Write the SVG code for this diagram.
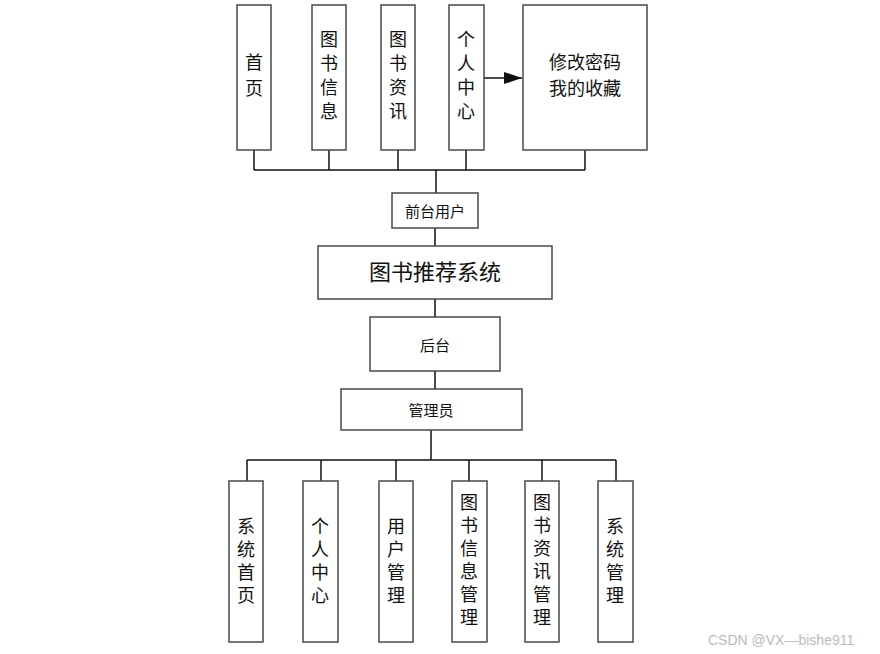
<svg xmlns="http://www.w3.org/2000/svg" width="880" height="654" viewBox="0 0 880 654">
<style>
.box{fill:#fff;stroke:#4a4a4a;stroke-width:1.5}
.ln{fill:none;stroke:#111;stroke-width:1.5}
.t{font-family:"Liberation Sans","Noto Sans CJK SC",sans-serif;font-size:18px;fill:#111;text-anchor:middle;dominant-baseline:central}
.s{font-size:15px}
.b{font-size:22px}
.wm{font-family:"Liberation Sans",Arial,sans-serif;font-size:14px;fill:#bbb}
</style>
<defs>
<marker id="ah" markerWidth="18" markerHeight="12" refX="18" refY="6" orient="auto" markerUnits="userSpaceOnUse" viewBox="0 0 18 12">
<path d="M0,0 L18,6 L0,12 z" fill="#111"/>
</marker>
</defs>
<rect width="880" height="654" fill="#fff"/>
<g id="connectors">
<path class="ln" d="M254,150 V170 M329,150 V170 M398,150 V170 M466,150 V170 M585,150 V170 M254,170 H585 M436,170 V193"/>
<path class="ln" d="M484,78 H522" marker-end="url(#ah)"/>
<path class="ln" d="M435,228 V246 M435,299 V317 M435,371 V389"/>
<path class="ln" d="M431,430 V460 M247,460 H616 M247,460 V481 M321,460 V481 M396,460 V481 M469,460 V481 M542,460 V481 M616,460 V481"/>
</g>
<g id="n-home">
<rect class="box" x="237" y="5" width="34" height="145"/>
<text class="t" x="254" y="63">首</text>
<text class="t" x="254" y="89">页</text>
</g>
<g id="n-bookinfo">
<rect class="box" x="312" y="5" width="34" height="145"/>
<text class="t" x="329" y="40">图</text>
<text class="t" x="329" y="64">书</text>
<text class="t" x="329" y="88">信</text>
<text class="t" x="329" y="112">息</text>
</g>
<g id="n-booknews">
<rect class="box" x="381" y="5" width="34" height="145"/>
<text class="t" x="398" y="40">图</text>
<text class="t" x="398" y="64">书</text>
<text class="t" x="398" y="88">资</text>
<text class="t" x="398" y="112">讯</text>
</g>
<g id="n-personal">
<rect class="box" x="449" y="5" width="35" height="145"/>
<text class="t" x="466" y="40">个</text>
<text class="t" x="466" y="64">人</text>
<text class="t" x="466" y="88">中</text>
<text class="t" x="466" y="112">心</text>
</g>
<g id="n-pwd">
<rect class="box" x="523" y="5" width="124" height="145"/>
<text class="t" x="585" y="63">修改密码</text>
<text class="t" x="585" y="89">我的收藏</text>
</g>
<g id="n-front">
<rect class="box" x="392" y="193" width="86" height="35"/>
<text class="t s" x="435" y="211">前台用户</text>
</g>
<g id="n-system">
<rect class="box" x="318" y="246" width="234" height="53"/>
<text class="t b" x="435" y="272">图书推荐系统</text>
</g>
<g id="n-back">
<rect class="box" x="370" y="317" width="130" height="54"/>
<text class="t s" x="435" y="345">后台</text>
</g>
<g id="n-admin">
<rect class="box" x="341" y="389" width="181" height="41"/>
<text class="t s" x="431" y="410">管理员</text>
</g>
<g id="n-sys-home">
<rect class="box" x="229" y="481" width="34" height="161"/>
<text class="t" x="246" y="527">系</text>
<text class="t" x="246" y="550">统</text>
<text class="t" x="246" y="573">首</text>
<text class="t" x="246" y="596">页</text>
</g>
<g id="n-admin-personal">
<rect class="box" x="303" y="481" width="35" height="161"/>
<text class="t" x="320" y="527">个</text>
<text class="t" x="320" y="550">人</text>
<text class="t" x="320" y="573">中</text>
<text class="t" x="320" y="596">心</text>
</g>
<g id="n-user-mgmt">
<rect class="box" x="379" y="481" width="34" height="161"/>
<text class="t" x="396" y="527">用</text>
<text class="t" x="396" y="550">户</text>
<text class="t" x="396" y="573">管</text>
<text class="t" x="396" y="596">理</text>
</g>
<g id="n-bookinfo-mgmt">
<rect class="box" x="452" y="481" width="35" height="161"/>
<text class="t" x="469" y="503">图</text>
<text class="t" x="469" y="526">书</text>
<text class="t" x="469" y="549">信</text>
<text class="t" x="469" y="572">息</text>
<text class="t" x="469" y="595">管</text>
<text class="t" x="469" y="618">理</text>
</g>
<g id="n-booknews-mgmt">
<rect class="box" x="525" y="481" width="34" height="161"/>
<text class="t" x="542" y="503">图</text>
<text class="t" x="542" y="526">书</text>
<text class="t" x="542" y="549">资</text>
<text class="t" x="542" y="572">讯</text>
<text class="t" x="542" y="595">管</text>
<text class="t" x="542" y="618">理</text>
</g>
<g id="n-sys-mgmt">
<rect class="box" x="598" y="481" width="35" height="161"/>
<text class="t" x="615" y="527">系</text>
<text class="t" x="615" y="550">统</text>
<text class="t" x="615" y="573">管</text>
<text class="t" x="615" y="596">理</text>
</g>
<text class="wm" x="708" y="645">CSDN @VX—bishe911</text>
</svg>
